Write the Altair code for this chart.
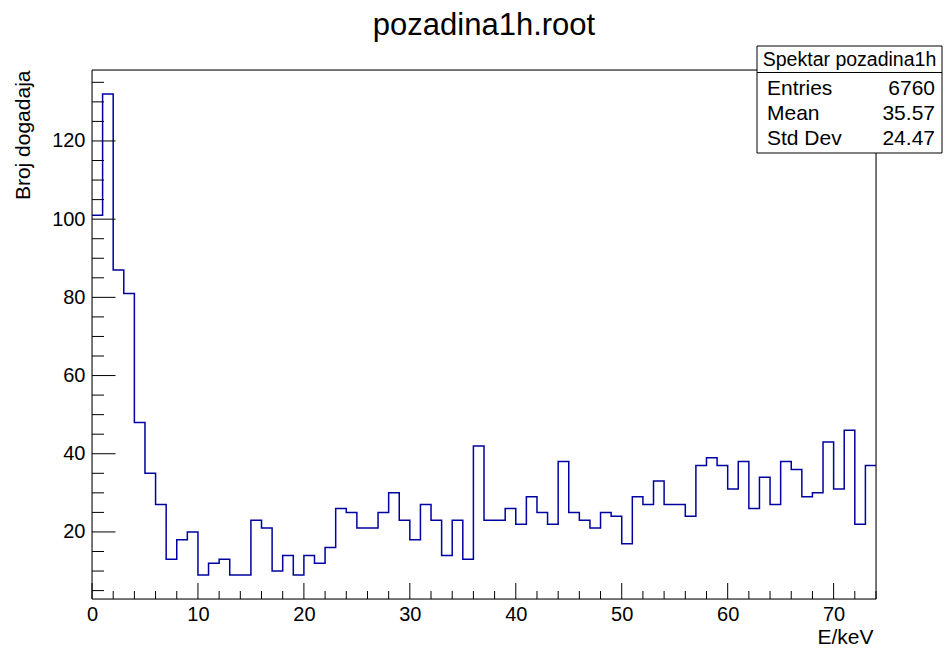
import altair as alt
import pandas as pd

# ---- data (counts per 1 keV bin, 0..74 keV) ----
counts = [101, 132, 87, 81, 48, 35, 27, 13, 18, 20,
          9, 12, 13, 9, 9, 23, 21, 10, 14, 9,
          14, 12, 16, 26, 25, 21, 21, 25, 30, 23,
          18, 27, 23, 14, 23, 13, 42, 23, 23, 26,
          22, 29, 25, 22, 38, 25, 23, 21, 25, 24,
          17, 29, 27, 33, 27, 27, 24, 37, 39, 37,
          31, 38, 26, 34, 27, 38, 36, 29, 30, 43,
          31, 46, 22, 37]
bin_width = 1
x_domain = [0, 74]
y_domain = [2.85, 138.15]

x_major = [0, 10, 20, 30, 40, 50, 60, 70]
x_minor = [2, 4, 6, 8, 12, 14, 16, 18, 22, 24, 26, 28, 32, 34, 36, 38,
           42, 44, 46, 48, 52, 54, 56, 58, 62, 64, 66, 68, 72, 74]
y_major = [20, 40, 60, 80, 100, 120]
y_minor = [5, 10, 15, 25, 30, 35, 45, 50, 55, 65, 70, 75, 85, 90, 95,
           105, 110, 115, 125, 130, 135]

title_text = "pozadina1h.root"
x_title = "E/keV"
y_title = "Broj dogadaja"
stats_title = "Spektar pozadina1h"
stat_names = ["Entries", "Mean", "Std Dev"]
stat_values = ["6760", "35.57", "24.47"]

FONT = "Liberation Sans"
W, H = 784, 529
LINE = "#0000a0"

edges = [i * bin_width for i in range(len(counts) + 1)]
hist_df = pd.DataFrame({"E": edges, "n": counts + [counts[-1]]})

xs = alt.Scale(domain=x_domain, nice=False, zero=False)
ys = alt.Scale(domain=y_domain, nice=False, zero=False)

x_axis = alt.Axis(
    values=x_major, title=x_title, ticks=False, domain=False, grid=False,
    labelFontSize=20, labelFont=FONT, labelColor="black", labelPadding=5,
    titleFontSize=21, titleFont=FONT, titleFontWeight="normal", titleColor="black",
    titleX=W - 3, titleY=44, titleAlign="right", titleBaseline="alphabetic",
    labelFlush=False)
y_axis = alt.Axis(
    values=y_major, title=y_title, ticks=False, domain=False, grid=False,
    labelFontSize=20, labelFont=FONT, labelColor="black", labelPadding=7,
    titleFontSize=21, titleFont=FONT, titleFontWeight="normal", titleColor="black",
    titleAngle=270, titleX=-63, titleY=0, titleAlign="right",
    titleBaseline="alphabetic")

hist = alt.Chart(hist_df).mark_line(
    interpolate="step-after", color=LINE, strokeWidth=1.5
).encode(
    x=alt.X("E:Q", scale=xs, axis=x_axis),
    y=alt.Y("n:Q", scale=ys, axis=y_axis),
)

one = pd.DataFrame({"k": [0]})

frame = alt.Chart(one).mark_rect(fill=None, stroke="black", strokeWidth=1).encode(
    x=alt.value(0), x2=alt.value(W), y=alt.value(0), y2=alt.value(H))

def yticks(vals, length):
    return alt.Chart(pd.DataFrame({"n": vals})).mark_rule(color="black", strokeWidth=1).encode(
        y=alt.Y("n:Q", scale=ys, axis=y_axis), x=alt.value(0), x2=alt.value(length))

def xticks(vals, length):
    return alt.Chart(pd.DataFrame({"E": vals})).mark_rule(color="black", strokeWidth=1).encode(
        x=alt.X("E:Q", scale=xs, axis=x_axis), y=alt.value(H), y2=alt.value(H - length))

# main title as a text mark centred over the plot
title_mark = alt.Chart(pd.DataFrame({"t": [title_text]})).mark_text(
    font=FONT, fontSize=31, color="black", align="center", baseline="alphabetic"
).encode(text="t:N", x=alt.value(W / 2), y=alt.value(-35))

# stats box (positioned in pixels relative to the plot area)
bx0, bx1, by0, by1 = 665, 850, -24, 83
box = alt.Chart(one).mark_rect(fill="white", stroke="black", strokeWidth=1).encode(
    x=alt.value(bx0), x2=alt.value(bx1), y=alt.value(by0), y2=alt.value(by1))
box_line = alt.Chart(one).mark_rule(color="black", strokeWidth=1).encode(
    x=alt.value(bx0), x2=alt.value(bx1), y=alt.value(2.5))
box_title = alt.Chart(pd.DataFrame({"t": [stats_title]})).mark_text(
    font=FONT, fontSize=19.5, color="black", align="center", baseline="alphabetic"
).encode(text="t:N", x=alt.value((bx0 + bx1) / 2), y=alt.value(-4))

stat_layers = []
for i, (nm, val) in enumerate(zip(stat_names, stat_values)):
    d = pd.DataFrame({"name": [nm], "val": [val]})
    yy = 25 + 25 * i
    stat_layers.append(alt.Chart(d).mark_text(
        font=FONT, fontSize=21, color="black", align="left", baseline="alphabetic"
    ).encode(text="name:N", x=alt.value(bx0 + 10), y=alt.value(yy)))
    stat_layers.append(alt.Chart(d).mark_text(
        font=FONT, fontSize=21, color="black", align="right", baseline="alphabetic"
    ).encode(text="val:N", x=alt.value(bx1 - 7), y=alt.value(yy)))

chart = alt.layer(
    hist, frame,
    yticks(y_major, 23.5), yticks(y_minor, 12),
    xticks(x_major, 16), xticks(x_minor, 8),
    title_mark, box, box_line, box_title, *stat_layers,
).properties(
    width=W, height=H,
    autosize=alt.AutoSizeParams(type="none"),
    padding={"left": 84, "top": 62, "right": 67, "bottom": 50},
).configure_view(stroke=None).configure(background="white")

chart.save("out.html", embed_options={"renderer": "svg", "actions": False})
